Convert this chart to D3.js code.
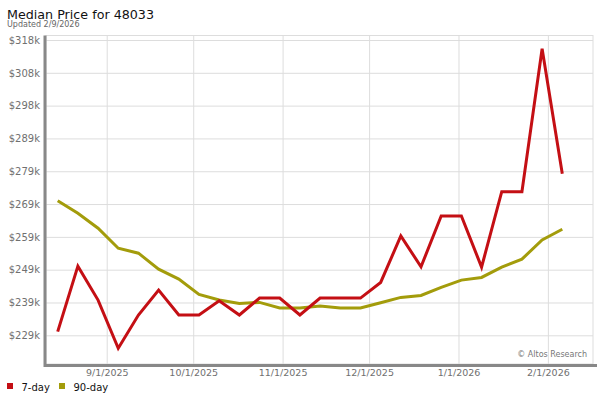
<!DOCTYPE html>
<html>
<head>
<meta charset="utf-8">
<script src="https://cdn.jsdelivr.net/npm/d3@7"></script>
<style>
  html, body { margin: 0; padding: 0; background: #fff; }
  svg { display: block; font-family: "DejaVu Sans", sans-serif; }
</style>
</head>
<body>
<svg id="chart" width="600" height="400"></svg>
<script>
const dates = ["2025-08-15","2025-08-22","2025-08-29","2025-09-05","2025-09-12","2025-09-19","2025-09-26",
  "2025-10-03","2025-10-10","2025-10-17","2025-10-24","2025-10-31","2025-11-07","2025-11-14","2025-11-21",
  "2025-11-28","2025-12-05","2025-12-12","2025-12-19","2025-12-26","2026-01-02","2026-01-09","2026-01-16",
  "2026-01-23","2026-01-30","2026-02-06"];
const sevenDay = [230.5, 250.2, 240.0, 225.5, 235.5, 243.0, 235.5, 235.5, 239.8, 235.5, 240.6, 240.6, 235.5,
  240.6, 240.6, 240.6, 245.3, 259.3, 250.0, 265.3, 265.3, 249.9, 272.6, 272.6, 315.6, 278.0];
const ninetyDay = [269.9, 266.1, 261.6, 255.6, 254.1, 249.3, 246.3, 241.7, 240.0, 239.0, 239.3, 237.6, 237.6,
  238.2, 237.6, 237.6, 239.2, 240.8, 241.4, 243.8, 246.0, 246.8, 249.9, 252.3, 258.1, 261.3];
const yTickValues = [229.4, 239.27, 249.14, 259.01, 268.88, 278.75, 288.62, 298.49, 308.36, 318.23];
const yTickLabels = ["$229k","$239k","$249k","$259k","$269k","$279k","$289k","$298k","$308k","$318k"];
const xTickDates = ["2025-09-01","2025-10-01","2025-11-01","2025-12-01","2026-01-01","2026-02-01"];
const xTickLabels = ["9/1/2025","10/1/2025","11/1/2025","12/1/2025","1/1/2026","2/1/2026"];
const seriesNames = ["7-day","90-day"];
const seriesColors = ["#c40f14","#a39c0b"];

const parse = d3.timeParse("%Y-%m-%d");
const svg = d3.select("#chart");

const plot = {left: 46, right: 593, top: 35.5, bottom: 364};

const x = d3.scaleTime()
  .domain([parse(dates[0]), parse(dates[dates.length - 1])])
  .range([57.7, 562.3]);
const y = d3.scaleLinear()
  .domain([yTickValues[0], yTickValues[yTickValues.length - 1]])
  .range([335.3, 40]);

// Title
svg.append("text").attr("x", 7).attr("y", 18.5).attr("font-size", 12.7).attr("fill", "#111")
  .text("Median Price for 48033");
svg.append("text").attr("x", 7).attr("y", 27).attr("font-size", 8).attr("fill", "#666")
  .text("Updated 2/9/2026");

// Plot frame
svg.append("rect").attr("x", plot.left).attr("y", plot.top)
  .attr("width", plot.right - plot.left).attr("height", plot.bottom - plot.top)
  .attr("fill", "#fff").attr("stroke", "#ddd").attr("stroke-width", 1);

// Horizontal gridlines
const yAxis = d3.axisLeft(y).tickValues(yTickValues)
  .tickFormat((d, i) => yTickLabels[i])
  .tickSize(-(plot.right - plot.left)).tickPadding(6);
const gy = svg.append("g").attr("transform", `translate(${plot.left},0)`).call(yAxis);
gy.select(".domain").remove();
gy.selectAll(".tick line").attr("stroke", "#ddd");
gy.selectAll(".tick text").attr("font-size", 10).attr("fill", "#707070")
  .attr("font-family", "DejaVu Sans, sans-serif");

// Vertical gridlines + x labels
const xAxis = d3.axisBottom(x).tickValues(xTickDates.map(parse))
  .tickFormat((d, i) => xTickLabels[i])
  .tickSize(-(plot.bottom - plot.top)).tickPadding(5.5);
const gx = svg.append("g").attr("transform", `translate(0,${plot.bottom})`).call(xAxis);
gx.select(".domain").remove();
gx.selectAll(".tick line").attr("stroke", "#ddd");
gx.selectAll(".tick text").attr("font-size", 9.5).attr("fill", "#707070")
  .attr("font-family", "DejaVu Sans, sans-serif");

// Thick axis lines (shadow style)
svg.append("line").attr("x1", 45).attr("x2", 45).attr("y1", plot.top).attr("y2", 367)
  .attr("stroke", "#888").attr("stroke-width", 3);
svg.append("line").attr("x1", 44).attr("x2", 597).attr("y1", 365.5).attr("y2", 365.5)
  .attr("stroke", "#888").attr("stroke-width", 3);

// Watermark
svg.append("text").attr("x", 587).attr("y", 357).attr("text-anchor", "end")
  .attr("font-size", 8).attr("fill", "#777").text("© Altos Research");

// Lines
const line = d3.line().x((d, i) => x(parse(dates[i]))).y(d => y(d));
[ninetyDay, sevenDay].forEach((s, k) => {
  svg.append("path").datum(s).attr("d", line)
    .attr("fill", "none").attr("stroke", seriesColors[1 - k])
    .attr("stroke-width", 3).attr("stroke-linejoin", "miter");
});

// Legend
const legendX = [7, 59];
seriesNames.forEach((n, i) => {
  svg.append("rect").attr("x", legendX[i]).attr("y", 383).attr("width", 6).attr("height", 6)
    .attr("fill", seriesColors[i]);
  svg.append("text").attr("x", legendX[i] + 14.5).attr("y", 390.5).attr("font-size", 10)
    .attr("fill", "#111").text(n);
});
</script>
</body>
</html>
